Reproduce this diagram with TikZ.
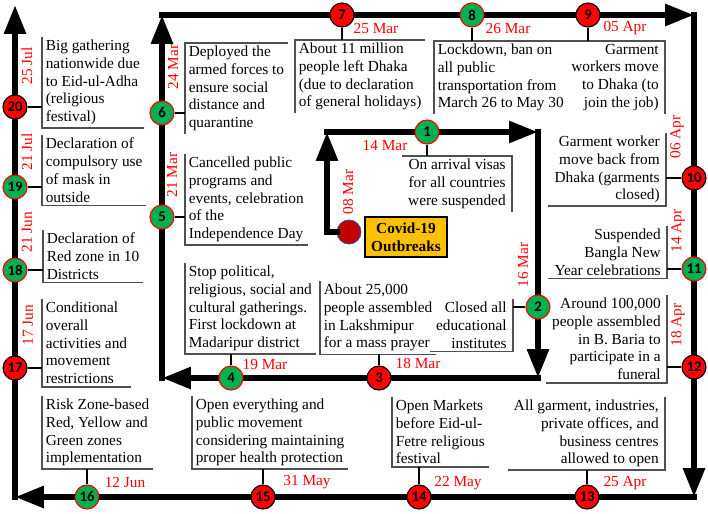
\documentclass[tikz,border=0pt]{standalone}
\usepackage{fontspec}
\setmainfont{Liberation Serif}
\newfontfamily\numfont{Carlito}
\usetikzlibrary{arrows.meta}
\definecolor{EventRed}{RGB}{255, 0, 0}
\definecolor{EventGreen}{RGB}{0, 176, 80}
\definecolor{OutbreakRed}{RGB}{192, 0, 0}
\definecolor{OutbreakBlue}{RGB}{47, 85, 151}
\definecolor{Banner}{RGB}{255, 192, 0}
\definecolor{Bracket}{RGB}{80, 80, 80}
\newcommand{\notefont}{\fontsize{10.9}{12.6}\selectfont}

\begin{document}
\begin{tikzpicture}[x=0.025cm, y=-0.025cm,
    flow/.style={line width=4.3pt, line cap=rect, -{Triangle[length=0.72cm, width=0.52cm]}},
    redpt/.style={circle, minimum size=0.6cm, inner sep=0pt, fill=EventRed, draw=black, line width=0.8pt,
                  font=\numfont\bfseries\fontsize{10.5}{12}\selectfont},
    greenpt/.style={redpt, fill=EventGreen, draw=EventRed},
    datelab/.style={text=EventRed, font=\notefont, inner sep=0pt},
    leftnote/.style={font=\notefont, align=left, inner xsep=2.5pt, inner ysep=2pt, anchor=north west},
    rightnote/.style={font=\notefont, align=right, inner xsep=4.3pt, inner ysep=2pt, anchor=north east},
    brk/.style={draw=Bracket, line width=1.1pt},
    stem/.style={line width=1.4pt}]
    \useasboundingbox (0,0) rectangle (708,513);

    % Start of the outbreak
    \node[circle, minimum size=0.6cm, inner sep=0pt, fill=OutbreakRed, draw=OutbreakBlue, line width=0.6pt] (src) at (349,232) {};
    \node[draw, fill=Banner, line width=1pt, font=\notefont\bfseries, align=center, minimum width=2.05cm, minimum height=1cm, inner sep=1pt] (covid) at (406,237) {Covid-19\\Outbreaks};

    % Timeline track
    \coordinate (i1) at (327,232);
    \coordinate (i2) at (327,132);
    \coordinate (i3) at (538,132);
    \coordinate (i4) at (538,378);
    \coordinate (i5) at (162,378);
    \coordinate (i6) at (162,15);
    \coordinate (i7) at (694,15);
    \coordinate (i8) at (694,497);
    \coordinate (i9) at (15,497);
    \coordinate (i10) at (15,5);
    \draw[flow] (src.west) -- (i1) -- (i2);
    \draw[flow] (i2) -- (i3);
    \draw[flow] (i3) -- (i4);
    \draw[flow] (i4) -- (i5);
    \draw[flow] (i5) -- (i6);
    \draw[flow] (i6) -- (i7);
    \draw[flow] (i7) -- (i8);
    \draw[flow] (i8) -- (i9);
    \draw[flow] (i9) -- (i10);

    % Event points
    \node[greenpt] (p1) at (427,132) {1};
    \node[greenpt] (p2) at (538,307) {2};
    \node[redpt] (p3) at (379,378) {3};
    \node[greenpt] (p4) at (231,378) {4};
    \node[greenpt] (p5) at (162,217) {5};
    \node[greenpt] (p6) at (162,113) {6};
    \node[redpt] (p7) at (342,15) {7};
    \node[greenpt] (p8) at (472,15) {8};
    \node[redpt] (p9) at (588,15) {9};
    \node[redpt] (p10) at (694,178) {10};
    \node[greenpt] (p11) at (694,269) {11};
    \node[redpt] (p12) at (694,367) {12};
    \node[redpt] (p13) at (587,497) {13};
    \node[redpt] (p14) at (419,497) {14};
    \node[redpt] (p15) at (263,497) {15};
    \node[greenpt] (p16) at (87,497) {16};
    \node[redpt] (p17) at (15,368) {17};
    \node[greenpt] (p18) at (15,270) {18};
    \node[greenpt] (p19) at (15,187) {19};
    \node[redpt] (p20) at (15,107) {20};

    % Dates
    \node[datelab, rotate=90] (d0) at (348,192) {08 Mar};
    \node[datelab] (d1) at (385,146) {14 Mar};
    \node[datelab, rotate=90] (d2) at (523,265) {16 Mar};
    \node[datelab] (d3) at (418,363) {18 Mar};
    \node[datelab] (d4) at (265,364) {19 Mar};
    \node[datelab, rotate=90] (d5) at (172,175) {21 Mar};
    \node[datelab, rotate=90] (d6) at (173,67) {24 Mar};
    \node[datelab] (d7) at (376,28) {25 Mar};
    \node[datelab] (d8) at (508,28) {26 Mar};
    \node[datelab] (d9) at (625,28) {05 Apr};
    \node[datelab, rotate=90] (d10) at (677,137) {06 Apr};
    \node[datelab, rotate=90] (d11) at (678,231) {14 Apr};
    \node[datelab, rotate=90] (d12) at (678,325) {18 Apr};
    \node[datelab] (d13) at (625,483) {25 Apr};
    \node[datelab] (d14) at (458,483) {22 May};
    \node[datelab] (d15) at (307,482) {31 May};
    \node[datelab] (d16) at (125,482) {12 Jun};
    \node[datelab, rotate=90] (d17) at (28,325) {17 Jun};
    \node[datelab, rotate=90] (d18) at (27,232) {21 Jun};
    \node[datelab, rotate=90] (d19) at (27,152) {21 Jul};
    \node[datelab, rotate=90] (d20) at (27,66) {25 Jul};

    % Event notes
    \node[rightnote] (b1) at (512,156) {On arrival visas\\for all countries\\were suspended};
    \node[rightnote] (b2) at (513,299) {Closed all\\educational\\institutes};
    \node[leftnote] (b3) at (320,281) {About 25,000\\people assembled\\in Lakshmipur\\for a mass prayer};
    \node[leftnote] (b4) at (185,263) {Stop political,\\religious, social and\\cultural gatherings.\\First lockdown at\\Madaripur district};
    \node[leftnote] (b5) at (185,154) {Cancelled public\\programs and\\events, celebration\\of the\\Independence Day};
    \node[leftnote] (b6) at (185,43) {Deployed the\\armed forces to\\ensure social\\distance and\\quarantine};
    \node[leftnote] (b7) at (295,40) {About 11 million\\people left Dhaka\\(due to declaration\\of general holidays)};
    \node[leftnote] (b8) at (434,41) {Lockdown, ban on\\all public\\transportation from\\March 26 to May 30};
    \node[rightnote] (b9) at (665,41) {Garment\\workers move\\to Dhaka (to\\join the job)};
    \node[rightnote] (b10) at (666,133) {Garment worker\\move back from\\Dhaka (garments\\closed)};
    \node[rightnote] (b11) at (667,226) {Suspended\\Bangla New\\Year celebrations};
    \node[rightnote] (b12) at (667,295) {Around 100,000\\people assembled\\in B. Baria to\\participate in a\\funeral};
    \node[rightnote] (b13) at (665,397) {All garment, industries,\\private offices, and\\business centres\\allowed to open};
    \node[leftnote] (b14) at (392,397) {Open Markets\\before Eid-ul-\\Fetre religious\\festival};
    \node[leftnote] (b15) at (192,396) {Open everything and\\public movement\\considering maintaining\\proper health protection};
    \node[leftnote] (b16) at (42,396) {Risk Zone-based\\Red, Yellow and\\Green zones\\implementation};
    \node[leftnote] (b17) at (42,299) {Conditional\\overall\\activities and\\movement\\restrictions};
    \node[leftnote] (b18) at (43,230) {Declaration of\\Red zone in 10\\Districts};
    \node[leftnote] (b19) at (42,135) {Declaration of\\compulsory use\\of mask in\\outside};
    \node[leftnote] (b20) at (42,37) {Big gathering\\nationwide due\\to Eid-ul-Adha\\(religious\\festival)};

    % Brackets round the notes
    \foreach \b in {b20,b19,b18,b17,b16,b5,b4,b15,b3,b14}
        \draw[brk] (\b.north west) -- (\b.south west) -- (\b.south east);
    \foreach \b in {b6,b7,b8}
        \draw[brk] (\b.south west) -- (\b.north west) -- (\b.north east);
    \foreach \b in {b9,b1}
        \draw[brk] (\b.north west) -- (\b.north east) -- (\b.south east);
    \foreach \b in {b10,b11,b12,b13,b2}
        \draw[brk] (\b.north east) -- (\b.south east) -- (\b.south west);

    % Stems from points to notes
    \foreach \n in {20,19,18,17,6,5}
        \draw[stem] (p\n.east) -- (p\n.east -| b\n.west);
    \foreach \n in {10,11,12,2}
        \draw[stem] (p\n.west) -- (p\n.west -| b\n.east);
    \foreach \n in {7,8,9,1}
        \draw[stem] (p\n.south) -- (p\n.south |- b\n.north);
    \foreach \n in {3,4,16,15,14,13}
        \draw[stem] (p\n.north) -- (p\n.north |- b\n.south);
\end{tikzpicture}
\end{document}
